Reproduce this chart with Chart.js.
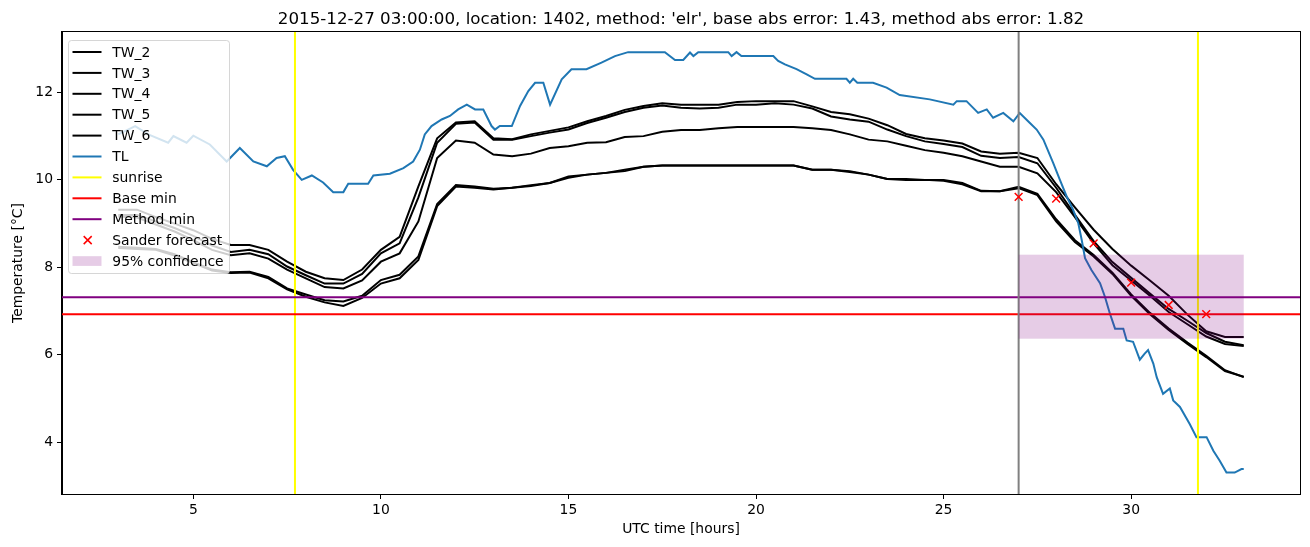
<!DOCTYPE html>
<html>
<head>
<meta charset="utf-8">
<script src="https://cdn.jsdelivr.net/npm/chart.js@4.4.0/dist/chart.umd.min.js"></script>
<style>
  html, body { margin: 0; padding: 0; background: #fff; }
  #wrap { width: 1310px; height: 547px; }
</style>
</head>
<body>
<div id="wrap"><canvas id="chart" width="1310" height="547"></canvas></div>
<script>
// half-hourly readings of the wet-bulb series
const hours = [
  3, 3.5, 4, 4.5, 5, 5.5, 6, 6.5, 7, 7.5,
  8, 8.5, 9, 9.5, 10, 10.5, 11, 11.5, 12, 12.5,
  13, 13.5, 14, 14.5, 15, 15.5, 16, 16.5, 17, 17.5,
  18, 18.5, 19, 19.5, 20, 20.5, 21, 21.5, 22, 22.5,
  23, 23.5, 24, 24.5, 25, 25.5, 26, 26.5, 27, 27.5,
  28, 28.5, 29, 29.5, 30, 30.5, 31, 31.5, 32, 32.5,
  33
];

const tw2 = [
  9.32, 9.32, 9.15, 9.0, 8.85, 8.65, 8.51, 8.51, 8.4, 8.13,
  7.9, 7.75, 7.71, 7.95, 8.4, 8.7, 9.85, 10.95, 11.31, 11.34,
  10.95, 10.93, 11.04, 11.12, 11.2, 11.34, 11.46, 11.6, 11.69, 11.75,
  11.72, 11.72, 11.72, 11.78, 11.8, 11.8, 11.8, 11.68, 11.55, 11.5,
  11.4, 11.25, 11.05, 10.95, 10.9, 10.83, 10.65, 10.6, 10.62, 10.5,
  9.9, 9.37, 8.86, 8.42, 8.04, 7.7, 7.35, 6.92, 6.54, 6.41,
  6.41
];
const tw3 = [
  9.2, 9.2, 9.05, 8.9, 8.72, 8.5, 8.35, 8.4, 8.3, 8.02,
  7.82, 7.63, 7.63, 7.85, 8.32, 8.55, 9.6, 10.85, 11.28, 11.31,
  10.92, 10.92, 11.0, 11.08, 11.15, 11.3, 11.42, 11.55, 11.65, 11.7,
  11.65, 11.63, 11.65, 11.72, 11.72, 11.75, 11.72, 11.63, 11.45, 11.38,
  11.33, 11.15, 11.0, 10.88, 10.82, 10.75, 10.55, 10.5, 10.52, 10.38,
  9.82, 9.2, 8.6, 8.12, 7.76, 7.4, 7.05, 6.78, 6.5, 6.3,
  6.22
];
const tw4 = [
  9.16, 9.14, 8.98, 8.82, 8.62, 8.4, 8.28, 8.32, 8.2, 7.95,
  7.75, 7.55, 7.52, 7.7, 8.13, 8.32, 9.05, 10.5, 10.9, 10.85,
  10.58, 10.54, 10.6, 10.73, 10.77, 10.85, 10.86, 10.98, 11.0, 11.1,
  11.14, 11.14, 11.18, 11.21, 11.21, 11.21, 11.21, 11.18, 11.14, 11.04,
  10.92, 10.88, 10.78, 10.68, 10.62, 10.54, 10.42, 10.3, 10.3, 10.15,
  9.72, 9.15, 8.55, 8.05, 7.7, 7.35, 6.98, 6.7, 6.42, 6.25,
  6.2
];
const tw5 = [
  8.47, 8.45, 8.42, 8.3, 8.12, 7.95, 7.89, 7.9, 7.78, 7.52,
  7.38, 7.25, 7.22, 7.35, 7.71, 7.83, 8.25, 9.45, 9.88, 9.85,
  9.8, 9.82, 9.88, 9.93, 10.08, 10.12, 10.16, 10.2, 10.3, 10.33,
  10.33, 10.33, 10.33, 10.33, 10.33, 10.33, 10.33, 10.23, 10.23, 10.18,
  10.12, 10.02, 10.02, 10.0, 10.0, 9.93, 9.75, 9.74, 9.84, 9.68,
  9.1, 8.62, 8.28, 7.88, 7.38, 6.96, 6.6, 6.28, 5.98, 5.65,
  5.49
];
const tw6 = [
  8.44, 8.42, 8.4, 8.27, 8.1, 7.93, 7.87, 7.88, 7.75, 7.5,
  7.33, 7.2, 7.12, 7.3, 7.63, 7.75, 8.17, 9.4, 9.85, 9.82,
  9.78, 9.82, 9.86, 9.93, 10.05, 10.12, 10.16, 10.23, 10.3, 10.33,
  10.33, 10.33, 10.33, 10.33, 10.33, 10.33, 10.33, 10.23, 10.23, 10.2,
  10.12, 10.02, 10.0, 10.0, 9.98, 9.9, 9.74, 9.74, 9.81, 9.65,
  9.05, 8.58, 8.25, 7.85, 7.35, 6.93, 6.57, 6.25, 5.95, 5.63,
  5.5
];

// air temperature, read at its turning points
const tlHours = [
  3.0, 3.45, 3.8, 4.33, 4.47, 4.82, 5.0, 5.44, 5.89, 6.24,
  6.6, 6.96, 7.22, 7.44, 7.66, 7.89, 8.16, 8.46, 8.73, 9.0,
  9.13, 9.66, 9.8, 10.24, 10.6, 10.86, 11.04, 11.17, 11.35, 11.62,
  11.84, 12.06, 12.29, 12.51, 12.73, 12.95, 13.04, 13.17, 13.49, 13.71,
  13.93, 14.11, 14.33, 14.51, 14.82, 15.08, 15.48, 15.88, 16.24, 16.59,
  17.57, 17.84, 18.06, 18.24, 18.33, 18.46, 19.26, 19.35, 19.48, 19.61,
  20.46, 20.59, 20.77, 21.08, 21.35, 21.57, 22.41, 22.5, 22.59, 22.7,
  23.12, 23.48, 23.83, 24.63, 25.26, 25.35, 25.61, 25.92, 26.15, 26.32,
  26.59, 26.86, 27.03, 27.3, 27.48, 27.66, 27.92, 28.1, 28.28, 28.45,
  28.59, 28.68, 28.77, 28.94, 29.17, 29.3, 29.43, 29.57, 29.79, 29.88,
  30.05, 30.23, 30.36, 30.45, 30.59, 30.68, 30.85, 31.03, 31.12, 31.3,
  31.56, 31.74, 32.01, 32.19, 32.36, 32.54, 32.76, 32.94, 33.0
];
const tlTemps = [
  11.04, 11.23, 11.04, 10.85, 11.0, 10.85, 11.01, 10.81, 10.42, 10.73,
  10.42, 10.31, 10.5, 10.54, 10.23, 10.0, 10.1, 9.94, 9.72, 9.72,
  9.91, 9.91, 10.1, 10.14, 10.27, 10.42, 10.69, 11.04, 11.23, 11.38,
  11.46, 11.61, 11.72, 11.61, 11.61, 11.23, 11.15, 11.23, 11.23, 11.69,
  12.03, 12.22, 12.22, 11.72, 12.3, 12.53, 12.53, 12.68, 12.83, 12.92,
  12.92, 12.74, 12.74, 12.91, 12.83, 12.92, 12.92, 12.83, 12.92, 12.83,
  12.83, 12.72, 12.64, 12.53, 12.41, 12.31, 12.31, 12.22, 12.31, 12.22,
  12.22, 12.11, 11.94, 11.84, 11.72, 11.8, 11.8, 11.53, 11.61, 11.42,
  11.53, 11.34, 11.53, 11.3, 11.15, 10.92, 10.39, 10.0, 9.62, 9.32,
  9.01, 8.63, 8.21, 7.94, 7.64, 7.33, 6.95, 6.6, 6.6, 6.33,
  6.3, 5.89, 6.03, 6.11, 5.8, 5.49, 5.11, 5.23, 4.96, 4.81,
  4.42, 4.12, 4.12, 3.81, 3.58, 3.31, 3.31, 3.39, 3.39
];

const forecastHours = [27, 28, 29, 30, 31, 32];
const forecastTemps = [9.61, 9.57, 8.55, 7.65, 7.14, 6.93];

const sunriseHours = [7.71, 31.78];
const issueHour = 27;
const baseMin = 6.93;
const methodMin = 7.32;
const confHours = [27, 33];
const confTemps = [6.37, 8.29];

const xTicks = [5, 10, 15, 20, 25, 30];
const yTicks = [4, 6, 8, 10, 12];

const titleText = "2015-12-27 03:00:00, location: 1402, method: 'elr', base abs error: 1.43, method abs error: 1.82";

const font = 'DejaVu Sans';
Chart.defaults.font.family = font;
Chart.defaults.color = '#000';

function pairs(xs, ys) {
    return xs.map((x, i) => ({ x: x, y: ys[i] }));
}

const twSeries = [['TW_2', tw2], ['TW_3', tw3], ['TW_4', tw4], ['TW_5', tw5], ['TW_6', tw6]];

const datasets = twSeries.map(([name, vals]) => ({
    label: name,
    data: pairs(hours, vals),
    borderColor: '#000000',
    borderWidth: 2,
    pointRadius: 0,
    showLine: true,
    order: 3
}));

datasets.push({
    label: 'TL',
    data: pairs(tlHours, tlTemps),
    borderColor: '#1f77b4',
    borderWidth: 2,
    pointRadius: 0,
    showLine: true,
    order: 2
});

datasets.push({
    label: 'Sander forecast',
    type: 'scatter',
    data: pairs(forecastHours, forecastTemps),
    borderColor: '#ff0000',
    backgroundColor: '#ff0000',
    pointStyle: 'crossRot',
    pointRadius: 5.5,
    borderWidth: 1.5,
    showLine: false,
    order: 1
});

const legendEntries = [
    { label: 'TW_2', kind: 'line', color: '#000000' },
    { label: 'TW_3', kind: 'line', color: '#000000' },
    { label: 'TW_4', kind: 'line', color: '#000000' },
    { label: 'TW_5', kind: 'line', color: '#000000' },
    { label: 'TW_6', kind: 'line', color: '#000000' },
    { label: 'TL', kind: 'line', color: '#1f77b4' },
    { label: 'sunrise', kind: 'line', color: '#ffff00' },
    { label: 'Base min', kind: 'line', color: '#ff0000' },
    { label: 'Method min', kind: 'line', color: '#800080' },
    { label: 'Sander forecast', kind: 'marker', color: '#ff0000' },
    { label: '95% confidence', kind: 'patch', color: 'rgba(128,0,128,0.2)' }
];

// reference lines + confidence box, drawn right after the TL line
const refLines = {
    id: 'refLines',
    afterDatasetDraw(chart, args) {
        if (chart.data.datasets[args.index].label !== 'TL') return;
        const { ctx, chartArea: a, scales: { x, y } } = chart;
        ctx.save();
        ctx.beginPath();
        ctx.rect(a.left, a.top, a.right - a.left, a.bottom - a.top);
        ctx.clip();
        ctx.lineWidth = 2;

        const vline = (h, color) => {
            const px = x.getPixelForValue(h);
            ctx.strokeStyle = color;
            ctx.beginPath();
            ctx.moveTo(px, a.top);
            ctx.lineTo(px, a.bottom);
            ctx.stroke();
        };
        const hline = (v, color) => {
            const py = y.getPixelForValue(v);
            ctx.strokeStyle = color;
            ctx.beginPath();
            ctx.moveTo(a.left, py);
            ctx.lineTo(a.right, py);
            ctx.stroke();
        };

        sunriseHours.forEach(h => vline(h, '#ffff00'));
        hline(baseMin, '#ff0000');
        hline(methodMin, '#800080');
        vline(issueHour, '#808080');

        const x0 = x.getPixelForValue(confHours[0]);
        const x1 = x.getPixelForValue(confHours[1]);
        const y0 = y.getPixelForValue(confTemps[1]);
        const y1 = y.getPixelForValue(confTemps[0]);
        ctx.fillStyle = 'rgba(128,0,128,0.2)';
        ctx.fillRect(x0, y0, x1 - x0, y1 - y0);
        ctx.restore();
    }
};

// frame, title and the matplotlib style legend
const decorations = {
    id: 'decorations',
    afterDraw(chart) {
        const { ctx, chartArea: a } = chart;
        ctx.save();
        ctx.strokeStyle = '#000';
        ctx.lineWidth = 1;
        ctx.strokeRect(a.left - 0.5, a.top - 0.5, a.right - a.left + 1, a.bottom - a.top + 1);

        ctx.fillStyle = '#000';
        ctx.font = '16.7px "' + font + '"';
        ctx.textAlign = 'center';
        ctx.textBaseline = 'alphabetic';
        ctx.fillText(titleText, (a.left + a.right) / 2, 24);

        // legend box
        const bx = 68.5, by = 40.5, bw = 161, bh = 233, r = 3;
        ctx.beginPath();
        ctx.moveTo(bx + r, by);
        ctx.arcTo(bx + bw, by, bx + bw, by + bh, r);
        ctx.arcTo(bx + bw, by + bh, bx, by + bh, r);
        ctx.arcTo(bx, by + bh, bx, by, r);
        ctx.arcTo(bx, by, bx + bw, by, r);
        ctx.closePath();
        ctx.fillStyle = 'rgba(255,255,255,0.8)';
        ctx.fill();
        ctx.strokeStyle = 'rgba(204,204,204,0.8)';
        ctx.stroke();

        ctx.font = '13.9px "' + font + '"';
        ctx.textAlign = 'left';
        ctx.textBaseline = 'middle';
        legendEntries.forEach((e, i) => {
            const cy = 52 + i * 20.9;
            if (e.kind === 'line') {
                ctx.strokeStyle = e.color;
                ctx.lineWidth = 2;
                ctx.beginPath();
                ctx.moveTo(72.5, cy);
                ctx.lineTo(101.5, cy);
                ctx.stroke();
            } else if (e.kind === 'marker') {
                ctx.strokeStyle = e.color;
                ctx.lineWidth = 1.5;
                ctx.beginPath();
                ctx.moveTo(83.7, cy - 4);
                ctx.lineTo(91.7, cy + 4);
                ctx.moveTo(91.7, cy - 4);
                ctx.lineTo(83.7, cy + 4);
                ctx.stroke();
            } else {
                ctx.fillStyle = e.color;
                ctx.fillRect(72.5, cy - 4.8, 29, 9.7);
            }
            ctx.fillStyle = '#000';
            ctx.fillText(e.label, 112.3, cy + 1);
        });
        ctx.restore();
    }
};

new Chart(document.getElementById('chart'), {
    type: 'line',
    data: { datasets: datasets },
    options: {
        responsive: false,
        animation: false,
        devicePixelRatio: 1,
        layout: { padding: { top: 32, right: 10, left: 0, bottom: 0 } },
        elements: { line: { tension: 0 } },
        plugins: {
            legend: { display: false },
            title: { display: false },
            tooltip: { enabled: false }
        },
        scales: {
            x: {
                type: 'linear',
                min: 1.5,
                max: 34.5,
                afterBuildTicks: s => { s.ticks = xTicks.map(v => ({ value: v })); },
                afterFit: s => { s.height = 53; },
                grid: { drawOnChartArea: false, color: '#000', tickLength: 5, tickWidth: 1 },
                border: { display: true, color: '#000', width: 1 },
                ticks: { color: '#000', font: { size: 13.9 }, padding: 3, maxRotation: 0 },
                title: {
                    display: true, text: 'UTC time [hours]', color: '#000',
                    font: { size: 13.9 }, padding: { top: 2, bottom: 9 }
                }
            },
            y: {
                type: 'linear',
                min: 2.82,
                max: 13.38,
                afterBuildTicks: s => { s.ticks = yTicks.map(v => ({ value: v })); },
                afterFit: s => { s.width = 62; },
                grid: { drawOnChartArea: false, color: '#000', tickLength: 5, tickWidth: 1 },
                border: { display: true, color: '#000', width: 1 },
                ticks: { color: '#000', font: { size: 13.9 }, padding: 4 },
                title: {
                    display: true, text: 'Temperature [°C]', color: '#000',
                    font: { size: 13.9 }, padding: { top: 10, bottom: 0 }
                }
            }
        }
    },
    plugins: [refLines, decorations]
});
</script>
</body>
</html>
